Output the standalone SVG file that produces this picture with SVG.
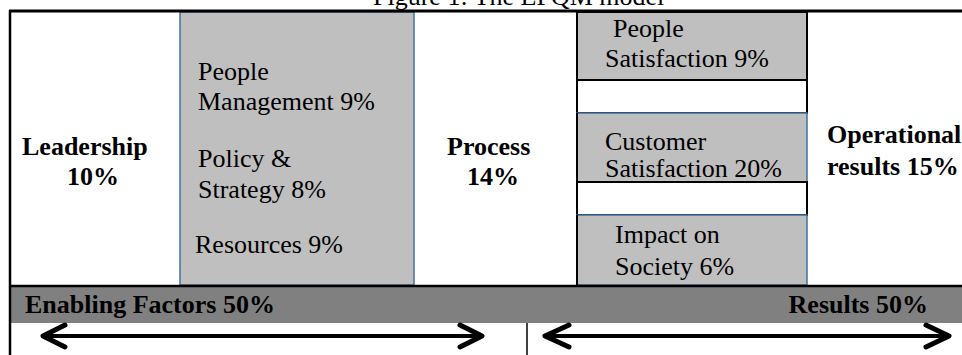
<svg xmlns="http://www.w3.org/2000/svg" width="962" height="355" viewBox="0 0 962 355">
<style>
text{font-family:"Liberation Serif","Times New Roman",serif;font-size:26px;fill:#000}
.b{font-weight:bold}
.g{fill:#bfbfbf;stroke:#41719c;stroke-width:1.5}
.w{fill:#fff;stroke:#000;stroke-width:2}
.arr{fill:none;stroke:#000;stroke-width:5;stroke-linecap:round;stroke-linejoin:round}
</style>
<rect width="962" height="355" fill="#fff"/>
<text x="373" y="5">Figure 1: The EFQM model</text>
<g id="enablers">
<rect class="g" x="180" y="12" width="234" height="273"/>
<text x="198" y="80">People</text>
<text x="198" y="110">Management 9%</text>
<text x="198" y="167">Policy &amp;</text>
<text x="198" y="198">Strategy 8%</text>
<text x="195" y="253">Resources 9%</text>
</g>
<g id="leadership">
<text class="b" x="22" y="155">Leadership</text>
<text class="b" x="67" y="185">10%</text>
</g>
<g id="process">
<text class="b" x="447" y="155">Process</text>
<text class="b" x="467" y="185">14%</text>
</g>
<g id="people-satisfaction">
<rect x="577" y="12" width="230" height="68" fill="#bfbfbf" stroke="#000" stroke-width="2"/>
<text x="613" y="37">People</text>
<text x="605" y="67">Satisfaction 9%</text>
</g>
<g id="gap1"><rect class="w" x="577" y="80" width="230" height="33"/></g>
<g id="customer-satisfaction">
<rect class="g" x="577" y="113" width="230" height="69"/>
<line x1="577" y1="113" x2="577" y2="182" stroke="#000" stroke-width="2"/>
<text x="605" y="150">Customer</text>
<text x="605" y="177">Satisfaction 20%</text>
</g>
<g id="gap2"><rect class="w" x="577" y="182" width="230" height="33"/></g>
<g id="society">
<rect class="g" x="577" y="215" width="230" height="70"/>
<line x1="577" y1="215" x2="577" y2="285" stroke="#000" stroke-width="2"/>
<text x="615" y="243">Impact on</text>
<text x="615" y="275">Society 6%</text>
</g>
<g id="operational">
<text class="b" x="827" y="143">Operational</text>
<text class="b" x="827" y="175">results 15%</text>
</g>
<g id="band">
<rect x="11" y="287" width="951" height="36" fill="#808080"/>
<text class="b" x="25" y="313">Enabling Factors 50%</text>
<text class="b" x="928" y="313" text-anchor="end">Results 50%</text>
</g>
<g id="frame">
<line x1="9" y1="11" x2="962" y2="11" stroke="#000" stroke-width="3"/>
<line x1="10" y1="10" x2="10" y2="355" stroke="#000" stroke-width="2.5"/>
<line x1="11" y1="286" x2="962" y2="286" stroke="#000" stroke-width="2.5"/>
<line x1="527" y1="323" x2="527" y2="355" stroke="#000" stroke-width="1.5"/>
</g>
<g id="connectors">
<line x1="44" y1="336" x2="481" y2="336" stroke="#000" stroke-width="4"/>
<polyline class="arr" points="65,325 43,336 65,347"/>
<polyline class="arr" points="460,325 482,336 460,347"/>
<line x1="545" y1="336" x2="948" y2="336" stroke="#000" stroke-width="4"/>
<polyline class="arr" points="569,325 545,336 569,347"/>
<polyline class="arr" points="926,325 949,336 926,347"/>
</g>
</svg>
